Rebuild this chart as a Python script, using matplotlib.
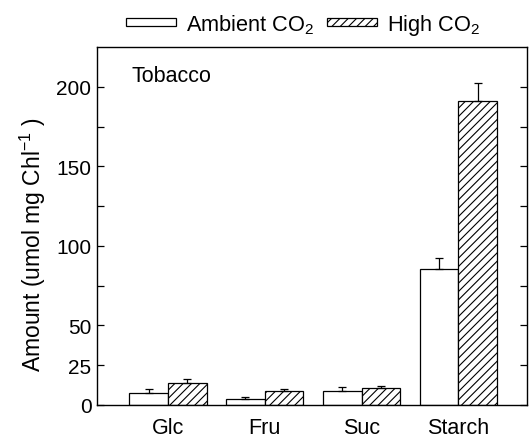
import numpy as np
import matplotlib
matplotlib.use('Agg')
import matplotlib.pyplot as plt
from matplotlib.patches import Patch

plt.rcParams.update({
    'font.family': ['Liberation Sans', 'DejaVu Sans'],
    'font.size': 15,
    'mathtext.fontset': 'custom',
    'mathtext.rm': 'Liberation Sans',
    'mathtext.it': 'Liberation Sans',
    'mathtext.bf': 'Liberation Sans',
    'hatch.linewidth': 0.8,
})

# ─── Data ──────────────────────────────────────────────────────────────────
categories = ['Glc', 'Fru', 'Suc', 'Starch']
ambient = [7.5, 3.8, 9.0, 85.5]
ambient_err = [2.5, 1.2, 2.5, 7.0]
high = [14.0, 8.5, 10.7, 191.0]
high_err = [2.5, 1.5, 1.3, 11.5]
ytick_vals = [0, 25, 50, 75, 100, 125, 150, 175, 200]
ytick_labels = ['0', '25', '50', '', '100', '', '150', '', '200']

# ─── Figure ────────────────────────────────────────────────────────────────
fig = plt.figure(figsize=(5.29, 4.39), dpi=100)
ax = fig.add_axes([0.1834, 0.0752, 0.8126, 0.8155])

x = np.arange(len(categories))
w = 0.4
ekw = dict(ecolor='black', elinewidth=0.9, capsize=2.6, capthick=0.9)

ax.bar(x - w/2, ambient, w, color='white', edgecolor='black', linewidth=0.9,
       yerr=[np.zeros(len(ambient)), ambient_err], error_kw=ekw)
ax.bar(x + w/2, high, w, color='white', edgecolor='black', linewidth=0.9,
       hatch='////', yerr=[np.zeros(len(high)), high_err], error_kw=ekw)

ax.set_xlim(-0.735, 3.71)
ax.set_ylim(0, 225)
ax.set_xticks(x)
ax.set_xticklabels(categories, fontsize=15.5)
ax.tick_params(axis='x', length=0, pad=9)
ax.set_yticks(ytick_vals)
ax.set_yticklabels(ytick_labels)
ax.tick_params(axis='y', direction='in', length=5, width=0.9, right=True, pad=4)
for s in ax.spines.values():
    s.set_linewidth(1.0)

ax.set_ylabel('Amount (umol mg Chl$^{-1}$ )', fontsize=16.5)
ax.yaxis.set_label_coords(-0.115, 0.45)
ax.text(0.08, 0.92, 'Tobacco', transform=ax.transAxes, ha='left', va='center',
        fontsize=15.5)

handles = [Patch(facecolor='white', edgecolor='black', linewidth=0.9, label='Ambient CO$_2$'),
           Patch(facecolor='white', edgecolor='black', linewidth=0.9, hatch='////', label='High CO$_2$')]
fig.legend(handles=handles, loc='center', bbox_to_anchor=(0.573, 0.942), ncol=2,
           frameon=False, handlelength=2.3, handleheight=0.15, handletextpad=0.45,
           columnspacing=0.6, fontsize=15.7)

plt.savefig('out.png', dpi=100)
